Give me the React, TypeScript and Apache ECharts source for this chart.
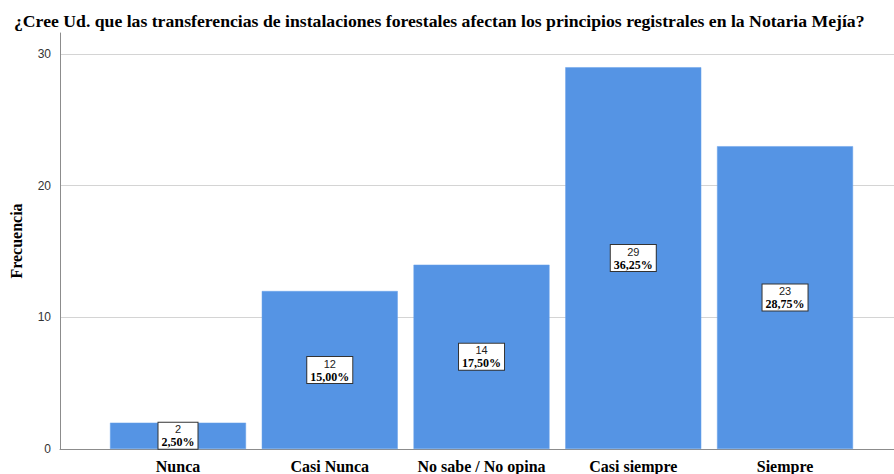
import React, { useEffect, useRef } from "react";
import * as echarts from "echarts";

const titleText =
  "¿Cree Ud. que las transferencias de instalaciones forestales afectan los principios registrales en la Notaria Mejía?";
const categories = ["Nunca", "Casi Nunca", "No sabe / No opina", "Casi siempre", "Siempre"];
const counts = [2, 12, 14, 29, 23];
const yTicks = [0, 10, 20, 30];

export default function App() {
  const ref = useRef<HTMLDivElement>(null);
  useEffect(() => {
    if (!ref.current) return;
    const chart = echarts.init(ref.current, null, { renderer: "svg" });
    const total = counts.reduce((a, b) => a + b, 0);
    const pct = counts.map((c) => ((c / total) * 100).toFixed(2).replace(".", ",") + "%");
    chart.setOption({
      animation: false,
      title: {
        text: titleText,
        left: 9,
        top: 7,
        textStyle: {
          fontFamily: "Liberation Serif",
          fontWeight: "bold",
          fontSize: 17.7,
          color: "#000",
        },
      },
      grid: { left: 60, right: 0, top: 33, bottom: 24, containLabel: false },
      xAxis: {
        type: "value",
        min: -0.7776,
        max: 4.718,
        axisLine: { show: true, onZero: false, lineStyle: { color: "#8c8c8c", width: 1 } },
        axisTick: { show: false },
        splitLine: { show: false },
        axisLabel: {
          customValues: categories.map((_, i) => i),
          formatter: (v: number) => categories[Math.round(v)] ?? "",
          fontFamily: "Liberation Serif",
          fontWeight: "bold",
          fontSize: 16,
          color: "#000",
          margin: 9,
        },
      },
      yAxis: {
        type: "value",
        min: 0,
        max: 31.6,
        interval: 10,
        name: "Frecuencia",
        nameLocation: "middle",
        nameGap: 36,
        nameRotate: 90,
        nameTextStyle: {
          fontFamily: "Liberation Serif",
          fontWeight: "bold",
          fontSize: 16,
          color: "#000",
        },
        axisLine: { show: true, onZero: false, lineStyle: { color: "#8c8c8c", width: 1 } },
        axisTick: { show: false },
        axisLabel: {
          customValues: yTicks,
          fontFamily: "Liberation Sans",
          fontSize: 12,
          color: "#333",
          margin: 9,
        },
        splitLine: {
          show: true,
          showMinLine: false,
          showMaxLine: false,
          lineStyle: { color: "#d4d4d4", width: 1 },
        },
      },
      series: [
        {
          type: "bar",
          barWidth: 136,
          data: counts.map((c, i) => [i, c]),
          itemStyle: { color: "#5594e4", borderColor: "#6aa3ea", borderWidth: 0.5 },
          label: {
            show: true,
            position: "inside",
            formatter: (p: any) => `{a|${p.value[1]}}\n{b|${pct[p.dataIndex]}}`,
            backgroundColor: "#fff",
            borderColor: "#333",
            borderWidth: 1,
            padding: [0, 3, 0, 3],
            rich: {
              a: {
                fontFamily: "Liberation Sans",
                fontSize: 11,
                color: "#222",
                lineHeight: 13,
                align: "center",
              },
              b: {
                fontFamily: "Liberation Serif",
                fontWeight: "bold",
                fontSize: 12,
                color: "#000",
                lineHeight: 13,
                align: "center",
              },
            },
          },
        },
      ],
    });
    return () => chart.dispose();
  }, []);
  return (
    <div
      ref={ref}
      style={{ position: "absolute", left: 0, top: 0, width: 894, height: 474 }}
    />
  );
}
